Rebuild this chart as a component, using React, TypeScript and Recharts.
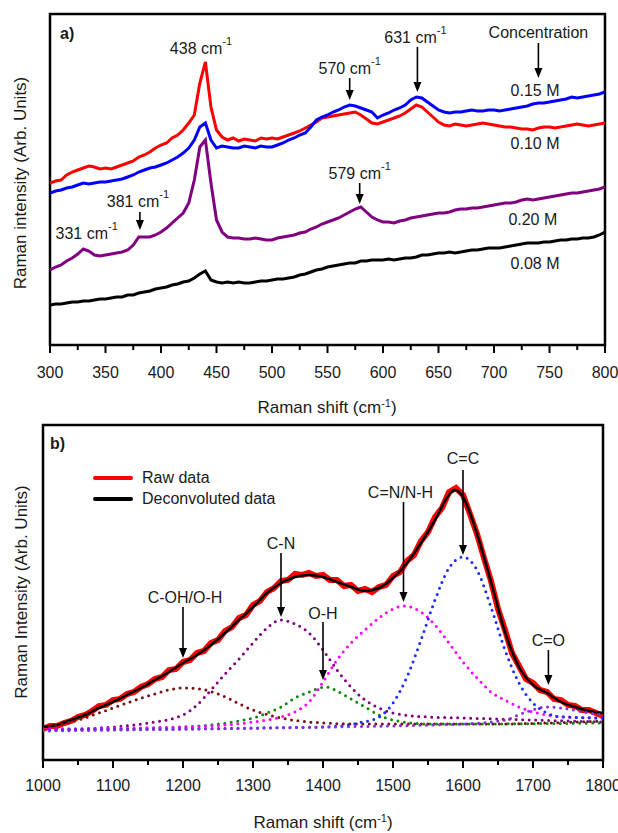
import React from "react";
import { LineChart, Line, XAxis, YAxis, ReferenceDot, ReferenceArea, Legend } from "recharts";

// ---- panel a: Raman spectra at four concentrations (arb. units) ----
const SHIFT_A = [
  300, 305, 310, 315, 320, 325, 330, 335, 340, 345, 350, 355, 360, 365, 370, 375, 380, 385, 390, 395,
  400, 405, 410, 415, 420, 425, 430, 435, 440, 445, 450, 455, 460, 465, 470, 475, 480, 485, 490, 495,
  500, 505, 510, 515, 520, 525, 530, 535, 540, 545, 550, 555, 560, 565, 570, 575, 580, 585, 590, 595,
  600, 605, 610, 615, 620, 625, 630, 635, 640, 645, 650, 655, 660, 665, 670, 675, 680, 685, 690, 695,
  700, 705, 710, 715, 720, 725, 730, 735, 740, 745, 750, 755, 760, 765, 770, 775, 780, 785, 790, 795, 800,
];

const CONC_010 = [
  162, 164, 165, 170, 173, 175, 177, 179, 178, 176, 177, 176, 178, 180, 182, 184, 188, 190, 193, 197,
  200, 202, 207, 210, 215, 222, 230, 262, 283, 238, 215, 208, 205, 207, 204, 206, 205, 204, 207, 206,
  207, 206, 208, 210, 212, 214, 217, 220, 223, 227, 228, 229, 230, 231, 232, 233, 230, 226, 222, 221,
  223, 225, 227, 229, 232, 236, 240, 238, 233, 228, 223, 220, 219, 221, 220, 219, 220, 221, 222, 221,
  220, 219, 218, 218, 217, 216, 216, 215, 217, 218, 218, 217, 218, 219, 220, 221, 220, 219, 220, 221, 222,
];

const CONC_015 = [
  152, 154, 155, 157, 158, 160, 162, 161, 162, 163, 163, 164, 165, 166, 168, 170, 173, 175, 177, 178,
  180, 182, 185, 188, 192, 197, 205, 218, 222, 205, 197, 199, 198, 197, 197, 199, 198, 197, 199, 198,
  198, 200, 202, 205, 207, 210, 212, 218, 225, 228, 230, 233, 235, 238, 240, 239, 237, 235, 233, 227,
  230, 232, 235, 237, 240, 245, 248, 247, 243, 239, 235, 233, 232, 233, 233, 234, 235, 234, 234, 235,
  235, 234, 235, 236, 237, 238, 239, 241, 242, 242, 243, 244, 245, 246, 248, 247, 248, 249, 250, 251, 253,
];

const CONC_020 = [
  75, 78, 80, 84, 87, 91, 96, 94, 90, 89, 90, 91, 92, 93, 95, 100, 108, 108, 108, 110,
  113, 117, 122, 127, 132, 142, 165, 198, 205, 162, 125, 113, 108, 107, 107, 106, 106, 107, 106, 105,
  105, 107, 108, 109, 110, 112, 113, 116, 118, 121, 123, 125, 127, 130, 133, 136, 138, 133, 128, 125,
  123, 123, 122, 124, 125, 127, 128, 129, 130, 131, 132, 132, 133, 135, 136, 136, 137, 137, 138, 139,
  140, 141, 142, 142, 143, 145, 146, 145, 146, 147, 148, 149, 150, 151, 152, 152, 153, 154, 155, 156, 158,
];

const CONC_008 = [
  40, 41, 41, 42, 43, 43, 44, 44, 45, 46, 46, 47, 48, 48, 50, 50, 52, 53, 54, 56,
  57, 58, 60, 61, 63, 64, 67, 71, 74, 65, 63, 62, 63, 62, 63, 62, 62, 63, 64, 64,
  65, 66, 66, 67, 68, 70, 71, 73, 75, 76, 78, 79, 80, 81, 82, 82, 84, 84, 85, 85,
  85, 86, 85, 86, 87, 87, 88, 90, 90, 91, 92, 92, 93, 92, 93, 94, 95, 95, 96, 97,
  97, 97, 98, 99, 100, 101, 102, 102, 102, 103, 103, 104, 105, 105, 106, 106, 107, 107, 108, 110, 113,
];

const TICKS_A = [
  300, 325, 350, 375, 400, 425, 450, 475, 500, 525, 550, 575, 600, 625, 650, 675, 700, 725, 750, 775, 800,
];

// ---- panel b: raw spectrum, fit and fitted bands ----
const SHIFT_RAW = [
  1000, 1010, 1020, 1030, 1040, 1050, 1060, 1070, 1080, 1090, 1100, 1110, 1120, 1130, 1140, 1150, 1160,
  1170, 1180, 1190, 1200, 1210, 1220, 1230, 1240, 1250, 1260, 1270, 1280, 1290, 1300, 1310, 1320, 1330,
  1340, 1350, 1360, 1370, 1380, 1390, 1400, 1410, 1420, 1430, 1440, 1450, 1460, 1470, 1480, 1490, 1500,
  1510, 1520, 1530, 1540, 1550, 1560, 1570, 1580, 1590, 1600, 1610, 1620, 1630, 1640, 1650, 1660, 1670,
  1680, 1690, 1700, 1710, 1720, 1730, 1740, 1750, 1760, 1770, 1780, 1790, 1800,
];
const RAW = [
  31, 34, 34, 37, 39, 43, 45, 49, 54, 55, 60, 61, 66, 68, 73, 76, 81,
  83, 90, 91, 98, 100, 107, 109, 117, 120, 129, 133, 142, 145, 155, 159, 168, 172,
  179, 180, 186, 185, 187, 184, 185, 180, 180, 174, 175, 169, 171, 168, 173, 175, 184,
  188, 199, 205, 219, 228, 243, 252, 268, 272, 265, 246, 226, 202, 179, 151, 130, 107,
  94, 81, 77, 70, 68, 61, 60, 55, 54, 50, 50, 47, 44,
];

const FIT = [
  [1000, 33], [1020, 35], [1040, 40], [1060, 45], [1080, 52], [1100, 58], [1120, 65], [1140, 72],
  [1160, 80], [1180, 88], [1200, 97], [1220, 105], [1240, 115], [1260, 127], [1280, 140], [1300, 153],
  [1320, 167], [1340, 177], [1360, 183], [1380, 185], [1400, 183], [1420, 178], [1440, 173], [1460, 169],
  [1480, 172], [1500, 182], [1520, 197], [1540, 217], [1560, 240], [1580, 265], [1588, 270], [1600, 263],
  [1620, 226], [1640, 178], [1660, 128], [1680, 93], [1700, 75], [1720, 67], [1740, 58], [1760, 53],
  [1780, 49], [1800, 47],
];

const BAND_COH = [
  [1000, 32], [1050, 40], [1100, 52], [1150, 64], [1200, 72], [1225, 71], [1250, 66], [1300, 50],
  [1340, 42], [1380, 38], [1450, 36], [1550, 36], [1650, 36], [1720, 37], [1800, 39],
];
const BAND_CN = [
  [1000, 30], [1100, 33], [1150, 37], [1200, 45], [1220, 55], [1240, 70], [1260, 86], [1280, 101],
  [1300, 117], [1320, 132], [1340, 140], [1360, 136], [1380, 127], [1400, 110], [1420, 90], [1440, 73],
  [1460, 60], [1480, 52], [1500, 47], [1550, 43], [1600, 42], [1700, 40], [1800, 38],
];
const BAND_OH = [
  [1000, 30], [1200, 33], [1250, 36], [1280, 39], [1300, 42], [1320, 47], [1340, 53], [1360, 62],
  [1380, 68], [1405, 73], [1420, 69], [1440, 61], [1460, 53], [1480, 45], [1500, 40], [1550, 36],
  [1600, 36], [1800, 37],
];
const BAND_CNNH = [
  [1000, 31], [1200, 33], [1300, 38], [1340, 43], [1360, 48], [1380, 58], [1400, 78], [1420, 100],
  [1440, 117], [1460, 130], [1480, 142], [1500, 151], [1515, 154], [1540, 148], [1560, 135], [1580, 117],
  [1600, 98], [1620, 82], [1640, 68], [1660, 60], [1680, 53], [1700, 48], [1720, 45], [1750, 43], [1800, 42],
];
const BAND_CC = [
  [1000, 30], [1400, 33], [1450, 37], [1480, 43], [1500, 57], [1520, 83], [1540, 120], [1560, 160],
  [1580, 192], [1600, 203], [1620, 190], [1640, 153], [1660, 110], [1680, 77], [1700, 57], [1720, 47],
  [1740, 43], [1800, 42],
];
const BAND_CO = [
  [1000, 29], [1300, 32], [1600, 36], [1660, 40], [1690, 48], [1720, 53], [1750, 51], [1780, 47], [1800, 45],
];

const TICKS_B = [1000, 1050, 1100, 1150, 1200, 1250, 1300, 1350, 1400, 1450, 1500, 1550, 1600, 1650, 1700, 1750, 1800];

const FONT = "'Liberation Sans', Arial, Helvetica, sans-serif";
const INK = "#1a1a1a";

const zip = (xs: number[], ys: number[]) => xs.map((x, i) => ({ x, y: ys[i] }));
const pairs = (p: number[][]) => p.map(([x, y]) => ({ x, y }));

type Note = { x: number; y: number; text: string; sup?: string; len?: number; gap?: number; dx?: number; bold?: boolean; anchor?: "start" | "middle" };

const NOTES_A: Note[] = [
  { x: 436, y: 297, text: "438 cm", sup: "-1" },
  { x: 570, y: 245, text: "570 cm", sup: "-1", len: 22, gap: 10 },
  { x: 631, y: 253, text: "631 cm", sup: "-1", len: 45, gap: 10, dx: -2 },
  { x: 740, y: 267, text: "Concentration", len: 35, gap: 11 },
  { x: 579, y: 141, text: "579 cm", sup: "-1", len: 21, gap: 10 },
  { x: 381, y: 115, text: "381 cm", sup: "-1", len: 18, gap: 11, dx: -2 },
  { x: 333, y: 112, text: "331 cm", sup: "-1" },
  { x: 737, y: 255, text: "0.15 M" },
  { x: 737, y: 202, text: "0.10 M" },
  { x: 735, y: 126, text: "0.20 M" },
  { x: 737, y: 82, text: "0.08 M" },
  { x: 309, y: 312, text: "a)", bold: true, anchor: "start" },
];

const NOTES_B: Note[] = [
  { x: 1010, y: 317, text: "b)", bold: true, anchor: "start" },
  { x: 1340, y: 143, text: "C-N", len: 64, gap: 10 },
  { x: 1200, y: 102, text: "C-OH/O-H", len: 51, gap: 10, dx: 2 },
  { x: 1400, y: 80, text: "O-H", len: 58, gap: 9 },
  { x: 1515, y: 158, text: "C=N/N-H", len: 100, gap: 10, dx: -3 },
  { x: 1600, y: 205, text: "C=C", len: 85, gap: 12 },
  { x: 1722, y: 75, text: "C=O", len: 35, gap: 10 },
];

function NoteShape({ cx, cy, note }: { cx: number; cy: number; note: Note }) {
  const len = note.len ?? 0;
  const gap = note.gap ?? 0;
  const ty = cy - len - gap;
  return (
    <g>
      {len > 0 && (
        <>
          <line x1={cx} x2={cx} y1={cy - len} y2={cy - 7} stroke="#000" strokeWidth={1.6} />
          <polygon points={`${cx - 4},${cy - 10} ${cx + 4},${cy - 10} ${cx},${cy}`} fill="#000" />
        </>
      )}
      <text
        x={cx + (note.dx ?? 0)}
        y={ty}
        textAnchor={note.anchor ?? "middle"}
        dominantBaseline="central"
        fontFamily={FONT}
        fontSize={16}
        fontWeight={note.bold ? 700 : 400}
        fill={INK}
      >
        {note.text}
        {note.sup && (
          <tspan dy={-7} fontSize={11}>
            {note.sup}
          </tspan>
        )}
      </text>
    </g>
  );
}

function makeTick(major: number, labelDy: number) {
  return (props: any) => {
    const { x, y, payload } = props;
    const isMajor = payload.value % major === 0;
    return (
      <g>
        <line x1={x} x2={x} y1={y} y2={y + (isMajor ? 8 : 5)} stroke="#000" strokeWidth={2} />
        {isMajor && (
          <text x={x} y={y + labelDy} textAnchor="middle" dominantBaseline="central" fontFamily={FONT} fontSize={16} fill={INK}>
            {payload.value}
          </text>
        )}
      </g>
    );
  };
}

const notesFor = (notes: Note[]) =>
  notes.map((n, i) => (
    <ReferenceDot
      key={i}
      x={n.x}
      y={n.y}
      r={0}
      ifOverflow="visible"
      shape={(p: any) => <NoteShape cx={p.cx} cy={p.cy} note={n} />}
    />
  ));

function Title({ x, y, text, rotate }: { x: number; y: number; text: React.ReactNode; rotate?: boolean }) {
  return (
    <div
      style={{
        position: "absolute",
        left: x,
        top: y,
        transform: `translate(-50%, -50%)${rotate ? " rotate(-90deg)" : ""}`,
        whiteSpace: "nowrap",
        fontFamily: FONT,
        fontSize: 17,
        color: INK,
        lineHeight: 1,
      }}
    >
      {text}
    </div>
  );
}

const Sup = () => <sup style={{ fontSize: 11, verticalAlign: "6px" }}>-1</sup>;

function LegendBox() {
  const row = (color: string, label: string) => (
    <div style={{ display: "flex", alignItems: "center", height: 21 }}>
      <div style={{ width: 40, height: 4, background: color, borderRadius: 2 }} />
      <span style={{ marginLeft: 9, fontFamily: FONT, fontSize: 16, color: INK }}>{label}</span>
    </div>
  );
  return (
    <div>
      {row("#ff0000", "Raw data")}
      {row("#000000", "Deconvoluted data")}
    </div>
  );
}

export default function App() {
  const dots = { strokeWidth: 3, strokeDasharray: "0 6.5", strokeLinecap: "round" as const };
  return (
    <div style={{ position: "absolute", left: 0, top: 0, width: 618, height: 833, background: "#fff", overflow: "hidden" }}>
      <div style={{ position: "absolute", left: 0, top: 0 }}>
        <LineChart width={618} height={420} margin={{ top: 14, right: 13, bottom: 35, left: 50 }}>
          <XAxis
            type="number"
            dataKey="x"
            domain={[300, 800]}
            ticks={TICKS_A}
            interval={0}
            height={40}
            tickSize={0}
            tickMargin={0}
            tickLine={false}
            axisLine={false}
            tick={makeTick(50, 27)}
            allowDataOverflow
          />
          <YAxis hide type="number" domain={[0, 331]} allowDataOverflow />
          <ReferenceArea x1={300} x2={800} y1={0} y2={331} fill="none" stroke="#000" strokeWidth={2.5} ifOverflow="visible" />
          <Line data={zip(SHIFT_A, CONC_008)} dataKey="y" stroke="#000000" strokeWidth={3} dot={false} isAnimationActive={false} />
          <Line data={zip(SHIFT_A, CONC_020)} dataKey="y" stroke="#800080" strokeWidth={3} dot={false} isAnimationActive={false} />
          <Line data={zip(SHIFT_A, CONC_010)} dataKey="y" stroke="#ff0000" strokeWidth={3} dot={false} isAnimationActive={false} />
          <Line data={zip(SHIFT_A, CONC_015)} dataKey="y" stroke="#0000ff" strokeWidth={3} dot={false} isAnimationActive={false} />
          {notesFor(NOTES_A)}
        </LineChart>
      </div>
      <div style={{ position: "absolute", left: 0, top: 420 }}>
        <LineChart width={618} height={413} margin={{ top: 5, right: 15, bottom: 33, left: 43 }}>
          <XAxis
            type="number"
            dataKey="x"
            domain={[1000, 1800]}
            ticks={TICKS_B}
            interval={0}
            height={40}
            tickSize={0}
            tickMargin={0}
            tickLine={false}
            axisLine={false}
            tick={makeTick(100, 25)}
            allowDataOverflow
          />
          <YAxis hide type="number" domain={[0, 335]} allowDataOverflow />
          <ReferenceArea x1={1000} x2={1800} y1={0} y2={335} fill="none" stroke="#000" strokeWidth={2.5} ifOverflow="visible" />
          <Legend
            layout="horizontal"
            verticalAlign="middle"
            align="center"
            content={() => <LegendBox />}
            wrapperStyle={{ position: "absolute", left: 93, top: 47.5, width: "auto", height: "auto" }}
          />
          <Line name="Raw data" data={zip(SHIFT_RAW, RAW)} dataKey="y" stroke="#ff0000" strokeWidth={6} dot={false} isAnimationActive={false} />
          <Line name="Deconvoluted data" type="monotone" data={pairs(FIT)} dataKey="y" stroke="#000000" strokeWidth={2.5} dot={false} isAnimationActive={false} />
          <Line legendType="none" type="monotone" data={pairs(BAND_COH)} dataKey="y" stroke="#7a1010" {...dots} dot={false} isAnimationActive={false} />
          <Line legendType="none" type="monotone" data={pairs(BAND_CN)} dataKey="y" stroke="#800080" {...dots} dot={false} isAnimationActive={false} />
          <Line legendType="none" type="monotone" data={pairs(BAND_OH)} dataKey="y" stroke="#0a8a0a" {...dots} dot={false} isAnimationActive={false} />
          <Line legendType="none" type="monotone" data={pairs(BAND_CNNH)} dataKey="y" stroke="#ff00ff" {...dots} dot={false} isAnimationActive={false} />
          <Line legendType="none" type="monotone" data={pairs(BAND_CC)} dataKey="y" stroke="#1a2cff" {...dots} dot={false} isAnimationActive={false} />
          <Line legendType="none" type="monotone" data={pairs(BAND_CO)} dataKey="y" stroke="#8a2be2" {...dots} dot={false} isAnimationActive={false} />
          {notesFor(NOTES_B)}
        </LineChart>
      </div>
      <Title x={327} y={407} text={<>Raman shift (cm<Sup />)</>} />
      <Title x={20} y={183} rotate text="Raman intensity (Arb. Units)" />
      <Title x={323} y={822} text={<>Raman shift (cm<Sup />)</>} />
      <Title x={21} y={592} rotate text="Raman Intensity (Arb. Units)" />
    </div>
  );
}
